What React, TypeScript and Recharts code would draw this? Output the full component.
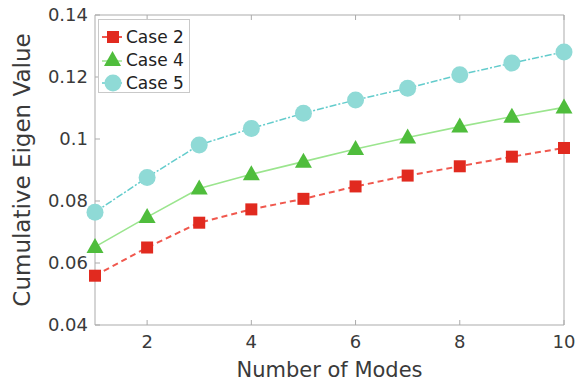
import React from "react";
import { LineChart, Line, XAxis, YAxis, Legend, Label } from "recharts";

const modes = [1, 2, 3, 4, 5, 6, 7, 8, 9, 10];
const case2 = [0.0559, 0.065, 0.073, 0.0773, 0.0807, 0.0847, 0.0882, 0.0912, 0.0943, 0.0971];
const case4 = [0.0652, 0.0748, 0.084, 0.0886, 0.0927, 0.0968, 0.1005, 0.104, 0.1072, 0.1102];
const case5 = [0.0764, 0.0876, 0.0981, 0.1034, 0.1083, 0.1126, 0.1164, 0.1207, 0.1245, 0.1281];
const xTicks = [2, 4, 6, 8, 10];
const yTicks = [0.04, 0.06, 0.08, 0.1, 0.12, 0.14];
const seriesNames = ["Case 2", "Case 4", "Case 5"];

const data = modes.map((m, i) => ({ mode: m, c2: case2[i], c4: case4[i], c5: case5[i] }));

const FONT = "'DejaVu Sans', 'Liberation Sans', Arial, sans-serif";
const AXIS = "#ababab";
const TXT = "#3a3a3a";

const RED = "#e12a1f";
const RED_LINE = "#f0584e";
const GREEN = "#4fbd3c";
const GREEN_LINE = "#9be58e";
const CYAN = "#8fdad6";
const CYAN_LINE = "#63cccc";

const Square = (p: any) => {
  const { cx, cy, index } = p;
  if (cx == null || cy == null) return <g key={`s${index}`} />;
  return <rect key={`s${index}`} x={cx - 6} y={cy - 6} width={12} height={12} fill={RED} />;
};
const Tri = (p: any) => {
  const { cx, cy, index } = p;
  if (cx == null || cy == null) return <g key={`t${index}`} />;
  return (
    <polygon
      key={`t${index}`}
      points={`${cx},${cy - 9} ${cx - 8.5},${cy + 6} ${cx + 8.5},${cy + 6}`}
      fill={GREEN}
    />
  );
};
const Circ = (p: any) => {
  const { cx, cy, index } = p;
  if (cx == null || cy == null) return <g key={`c${index}`} />;
  return <circle key={`c${index}`} cx={cx} cy={cy} r={8.5} fill={CYAN} />;
};

const icons = [
  (
    <svg width={24} height={22}>
      <line x1={2} y1={11} x2={22} y2={11} stroke={RED_LINE} strokeWidth={2} />
      <rect x={7} y={5} width={12} height={12} fill={RED} />
    </svg>
  ),
  (
    <svg width={24} height={22}>
      <line x1={2} y1={12} x2={22} y2={12} stroke={GREEN_LINE} strokeWidth={1.5} />
      <polygon points="12.5,2 4,17 21,17" fill={GREEN} />
    </svg>
  ),
  (
    <svg width={24} height={22}>
      <line x1={2} y1={11} x2={22} y2={11} stroke={CYAN_LINE} strokeWidth={1.5} />
      <circle cx={13} cy={11} r={8.5} fill={CYAN} />
    </svg>
  ),
];

const LegendBox = () => (
  <div
    style={{
      width: 92,
      height: 74,
      boxSizing: "border-box",
      border: "1px solid #c9c9c9",
      background: "#fff",
      paddingTop: 5,
      paddingLeft: 1,
      fontFamily: FONT,
      fontSize: 17,
      color: "#222",
    }}
  >
    {seriesNames.map((n, i) => (
      <div key={n} style={{ display: "flex", alignItems: "center", height: 23 }}>
        {icons[i]}
        <span style={{ marginLeft: 2, whiteSpace: "nowrap" }}>{n}</span>
      </div>
    ))}
  </div>
);

const fmt = (v: number) => String(+v.toFixed(2));
const NoTick = () => <g />;

export default function App() {
  return (
    <div style={{ position: "absolute", left: 0, top: 0, width: 578, height: 384, background: "#fff" }}>
      <LineChart width={578} height={384} data={data} margin={{ top: 14, right: 13, bottom: 0, left: 0 }}>
        <XAxis
          xAxisId="b"
          dataKey="mode"
          type="number"
          domain={[1, 10]}
          ticks={xTicks}
          height={59}
          stroke={AXIS}
          tickSize={-5}
          tickMargin={15}
          tick={{ fill: TXT, fontSize: 18, fontFamily: FONT }}
        >
          <Label
            content={(p: any) => {
              const vb = p.viewBox;
              return (
                <text x={vb.x + vb.width / 2} y={vb.y + 52} textAnchor="middle" fill={TXT} fontSize={21} fontFamily={FONT}>
                  Number of Modes
                </text>
              );
            }}
          />
        </XAxis>
        <XAxis
          xAxisId="t"
          orientation="top"
          dataKey="mode"
          type="number"
          domain={[1, 10]}
          ticks={xTicks}
          height={1}
          stroke={AXIS}
          tickSize={-5}
          tick={NoTick}
        />
        <YAxis
          yAxisId="l"
          type="number"
          domain={[0.04, 0.14]}
          ticks={yTicks}
          width={95}
          stroke={AXIS}
          tickSize={-5}
          tickMargin={12}
          tickFormatter={fmt}
          tick={{ fill: TXT, fontSize: 18, fontFamily: FONT }}
        >
          <Label
            content={(p: any) => {
              const vb = p.viewBox;
              const cx = 30;
              const cy = vb.y + vb.height / 2;
              return (
                <text
                  x={cx}
                  y={cy}
                  textAnchor="middle"
                  transform={`rotate(-90, ${cx}, ${cy})`}
                  fill={TXT}
                  fontSize={23}
                  fontFamily={FONT}
                >
                  Cumulative Eigen Value
                </text>
              );
            }}
          />
        </YAxis>
        <YAxis
          yAxisId="r"
          orientation="right"
          type="number"
          domain={[0.04, 0.14]}
          ticks={yTicks}
          width={1}
          stroke={AXIS}
          tickSize={-5}
          tick={NoTick}
        />
        <Legend
          layout="vertical"
          align="center"
          verticalAlign="middle"
          wrapperStyle={{ position: "absolute", left: 98, top: 19, width: 92 }}
          content={() => <LegendBox />}
        />
        <Line
          xAxisId="b"
          yAxisId="l"
          dataKey="c2"
          name="Case 2"
          stroke={RED_LINE}
          strokeWidth={2}
          strokeDasharray="6 4"
          dot={Square}
          isAnimationActive={false}
        />
        <Line
          xAxisId="b"
          yAxisId="l"
          dataKey="c4"
          name="Case 4"
          stroke={GREEN_LINE}
          strokeWidth={1.6}
          dot={Tri}
          isAnimationActive={false}
        />
        <Line
          xAxisId="b"
          yAxisId="l"
          dataKey="c5"
          name="Case 5"
          stroke={CYAN_LINE}
          strokeWidth={1.5}
          strokeDasharray="7 2 2 2"
          dot={Circ}
          isAnimationActive={false}
        />
      </LineChart>
    </div>
  );
}
